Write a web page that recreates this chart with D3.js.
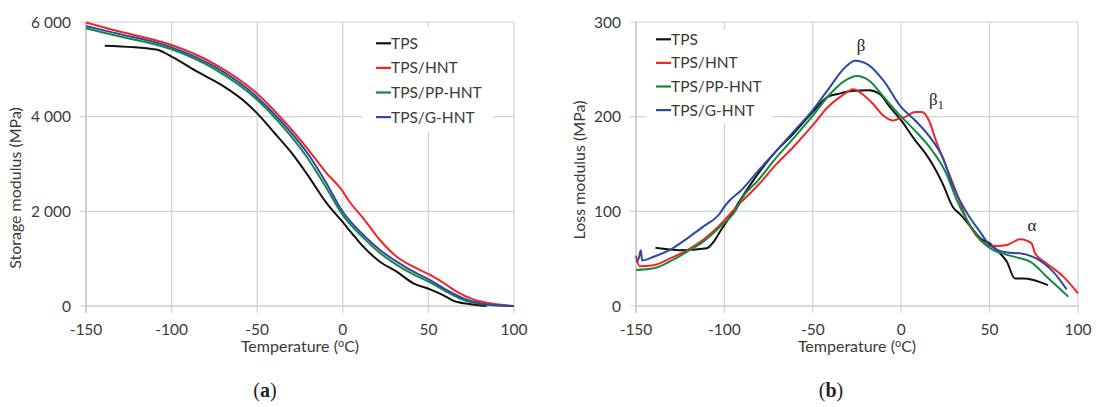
<!DOCTYPE html>
<html>
<head>
<meta charset="utf-8">
<script src="https://cdn.jsdelivr.net/npm/d3@7"></script>
<style>
  html, body { margin: 0; padding: 0; background: #fff; }
  svg { display: block; }
  text { font-family: Lato, "Liberation Sans", sans-serif; fill: #3a3a3a; }
  .serif { font-family: "Liberation Serif", "DejaVu Serif", serif; fill: #222; }
</style>
</head>
<body>
<svg id="chart" width="1097" height="407"></svg>
<script>
// ---------- data ----------
const seriesNames = ["TPS", "TPS/HNT", "TPS/PP-HNT", "TPS/G-HNT"];
const seriesColors = ["#111111", "#f22428", "#128a3c", "#2c48a8"];

const xTicks = [-150, -100, -50, 0, 50, 100];
const storageTicks = [0, 2000, 4000, 6000];
const storageTickLabels = ["0", "2 000", "4 000", "6 000"];
const lossTicks = [0, 100, 200, 300];
const lossTickLabels = ["0", "100", "200", "300"];

// (a) storage modulus, MPa  [temperature °C, value]
const storageTPS = [[-139,5500],[-109,5420],[-100,5270],[-85,4950],[-70,4650],[-56,4280],[-50,4070],[-40,3660],[-30,3240],[-20,2740],[-10,2200],[0,1770],[7,1464],[12,1253],[21.7,936],[31.5,725],[41.2,479],[51,352],[58.5,232],[64.5,112],[74,42],[84,0]];
const storageHNT = [[-150,5990],[-134,5830],[-100,5514],[-75.6,5128],[-50.3,4494],[-36.7,4000],[-25,3520],[-17,3154],[-10,2830],[0,2420],[3.2,2240],[12,1852],[21.7,1394],[31.5,1042],[41.2,831],[51,655],[60.7,444],[66.5,303],[76.2,141],[86,57],[100,0]];
const storagePPHNT = [[-150,5867],[-134,5726],[-100,5423],[-75.6,5022],[-50.3,4367],[-36.7,3860],[-21.1,3154],[-10,2520],[0,1920],[12,1440],[21.7,1120],[31.5,870],[41.2,670],[51,500],[60.7,300],[70.4,130],[80.1,45],[94,3],[100,0]];
const storageGHNT = [[-150,5916],[-134,5775],[-100,5465],[-75.6,5071],[-50.3,4423],[-36.7,3930],[-19.2,3154],[-10,2620],[0,1990],[12,1500],[21.7,1183],[31.5,936],[41.2,725],[51,549],[60.7,338],[70.4,162],[80.1,57],[94,5],[100,0]];

// (b) loss modulus, MPa
const lossTPS = [[-139,61.6],[-125,59],[-110,61],[-106,68],[-102.5,78.5],[-97,94],[-91,112],[-80.8,140],[-71,163],[-61,182],[-50,205],[-41.6,221],[-35.7,224],[-27.8,227],[-18,228],[-12.2,224],[-6.3,210],[0,196],[7.9,175],[13.8,161],[17.6,150],[23.5,129],[29.4,104],[33.3,97],[39.2,84],[45.1,71],[50.2,66],[54,59],[59.7,47],[64.4,29],[69,29],[74.7,27.5],[83,22]];
const lossHNT = [[-150,53],[-148,42],[-140,43],[-131,50],[-121,59],[-112,70],[-102.5,85.6],[-93,105],[-81,127.5],[-71,149],[-61,168],[-50,191],[-41.6,210],[-33.7,222],[-27,229],[-22,224],[-16,213.6],[-10,201],[-4.3,196],[-2.6,197],[2,199.5],[7.9,205],[11.8,205],[15.7,196],[19.6,175],[25.5,147],[31.4,119],[37.3,90.6],[43.1,73],[50,64],[54,63.4],[59.7,64.4],[67.2,70.4],[71,69],[73.8,66],[75.7,55.6],[82.3,45],[91.7,31],[100,13.4]];
const lossPPHNT = [[-150,38],[-140,39.8],[-131,46.8],[-121,57.4],[-112,68],[-102.5,83.8],[-93,103],[-90.6,112],[-80.8,133],[-71,156],[-61,177],[-50,201],[-41.6,221],[-31.8,238],[-25.2,243],[-18,238],[-10,221],[0,200],[7.9,185],[17.6,164],[25.5,140],[31.4,112],[37.3,90.6],[45.1,69.5],[50.2,61],[60,54],[67.2,50.4],[72.9,46.8],[82.3,31],[94.5,9.9]];
const lossGHNT = [[-150,47],[-148.5,50],[-147.3,59],[-146.5,48],[-140,52],[-131,59],[-121,71.5],[-112,83.8],[-102.5,98],[-100,105],[-96.8,112],[-90.6,122],[-80.8,143],[-71,163],[-61,184],[-50,207],[-41.6,228],[-31.8,252],[-26,259],[-18,254],[-10,238],[0,210],[7.9,196],[17.6,175],[23.5,157],[29.4,126],[37.3,98],[45.1,77],[50.2,64],[60,56.5],[67.2,55.6],[76.6,50],[86,36],[93.6,17.6]];

// ---------- drawing ----------
const svg = d3.select("#chart");

function drawPanel(cfg) {
  const g = svg.append("g");
  const x = d3.scaleLinear().domain([-150, 100]).range([cfg.left, cfg.right]);
  const y = d3.scaleLinear().domain([0, cfg.yMax]).range([306, 22]);

  // grid
  g.selectAll(".vg").data(xTicks).enter().append("line")
    .attr("x1", d => x(d)).attr("x2", d => x(d))
    .attr("y1", y(cfg.yMax)).attr("y2", y(0) + 7)
    .attr("stroke", "#d2d2d2").attr("stroke-width", 1.2);
  g.selectAll(".hg").data(cfg.yTicks).enter().append("line")
    .attr("x1", x(-150) - 6).attr("x2", x(100))
    .attr("y1", d => y(d)).attr("y2", d => y(d))
    .attr("stroke", "#d2d2d2").attr("stroke-width", 1.2);
  // axis lines
  g.append("line").attr("x1", x(-150)).attr("x2", x(100)).attr("y1", y(0)).attr("y2", y(0))
    .attr("stroke", "#c4c4c4").attr("stroke-width", 1.2);
  g.append("line").attr("x1", x(-150)).attr("x2", x(-150)).attr("y1", y(0) + 7).attr("y2", y(cfg.yMax))
    .attr("stroke", "#c4c4c4").attr("stroke-width", 1.2);

  // tick labels
  g.selectAll(".xl").data(xTicks).enter().append("text")
    .attr("x", d => x(d)).attr("y", 335)
    .attr("text-anchor", "middle").attr("font-size", 15.5)
    .text(d => d);
  g.selectAll(".yl").data(cfg.yTicks).enter().append("text")
    .attr("x", x(-150) - 15).attr("y", d => y(d) + 5.5)
    .attr("text-anchor", "end").attr("font-size", 15.5)
    .text((d, i) => cfg.yTickLabels[i]);

  // axis titles
  const xt = g.append("text").attr("x", cfg.xTitleX).attr("y", 352)
    .attr("text-anchor", "middle").attr("font-size", 16);
  xt.append("tspan").text("Temperature (");
  xt.append("tspan").attr("dy", -5).attr("font-size", 11).text("o");
  xt.append("tspan").attr("dy", 5).text("C)");
  g.append("text")
    .attr("transform", `translate(${cfg.yTitleX},${cfg.yTitleY}) rotate(-90)`)
    .attr("text-anchor", "middle").attr("font-size", 16).text(cfg.yTitle);

  // panel label
  const pl = g.append("text").attr("class", "serif").attr("x", cfg.labelX).attr("y", 397)
    .attr("text-anchor", "middle").attr("font-size", 20);
  pl.append("tspan").text("(");
  pl.append("tspan").attr("font-weight", "bold").text(cfg.label);
  pl.append("tspan").text(")");

  // legend
  const lg = cfg.legend;
  g.append("rect").attr("x", lg.x0).attr("y", lg.y0).attr("width", lg.x1 - lg.x0).attr("height", lg.y1 - lg.y0)
    .attr("fill", "#fff");
  seriesNames.forEach((name, i) => {
    const yy = lg.rowY + i * lg.step;
    g.append("line").attr("x1", lg.mx).attr("x2", lg.mx + 15).attr("y1", yy).attr("y2", yy)
      .attr("stroke", seriesColors[i]).attr("stroke-width", 2.2);
    g.append("text").attr("x", lg.mx + 15).attr("y", yy + 5.5)
      .attr("font-size", 15.5).attr("fill", "#262626").text(name);
  });

  // lines
  const line = d3.line().x(d => x(d[0])).y(d => y(d[1])).curve(d3.curveMonotoneX);
  cfg.data.forEach((ser, i) => {
    g.append("path").datum(ser).attr("d", line)
      .attr("fill", "none").attr("stroke", seriesColors[i])
      .attr("stroke-width", 2).attr("stroke-linejoin", "round");
  });
  return {g, x, y};
}

drawPanel({
  left: 86, right: 514, yMax: 6000,
  yTicks: storageTicks, yTickLabels: storageTickLabels,
  xTitleX: 300, yTitleX: 21, yTitleY: 188, yTitle: "Storage modulus (MPa)",
  labelX: 265, label: "a",
  legend: {x0: 362, x1: 493, y0: 27, y1: 132, mx: 376, rowY: 43.3, step: 24.6},
  data: [storageTPS, storageHNT, storagePPHNT, storageGHNT]
});

const pb = drawPanel({
  left: 636, right: 1078, yMax: 300,
  yTicks: lossTicks, yTickLabels: lossTickLabels,
  xTitleX: 857, yTitleX: 585, yTitleY: 170, yTitle: "Loss modulus (MPa)",
  labelX: 831, label: "b",
  legend: {x0: 645, x1: 772, y0: 30, y1: 123, mx: 656, rowY: 39.3, step: 23.6},
  data: [lossTPS, lossHNT, lossPPHNT, lossGHNT]
});

// peak annotations
pb.g.append("text").attr("class", "serif").attr("x", 861).attr("y", 51)
  .attr("text-anchor", "middle").attr("font-size", 17).text("β");
const b1 = pb.g.append("text").attr("class", "serif").attr("x", 929).attr("y", 105).attr("font-size", 17);
b1.append("tspan").text("β");
b1.append("tspan").attr("dy", 4).attr("font-size", 12).text("1");
pb.g.append("text").attr("class", "serif").attr("x", 1032).attr("y", 231)
  .attr("text-anchor", "middle").attr("font-size", 17).text("α");
</script>
</body>
</html>
